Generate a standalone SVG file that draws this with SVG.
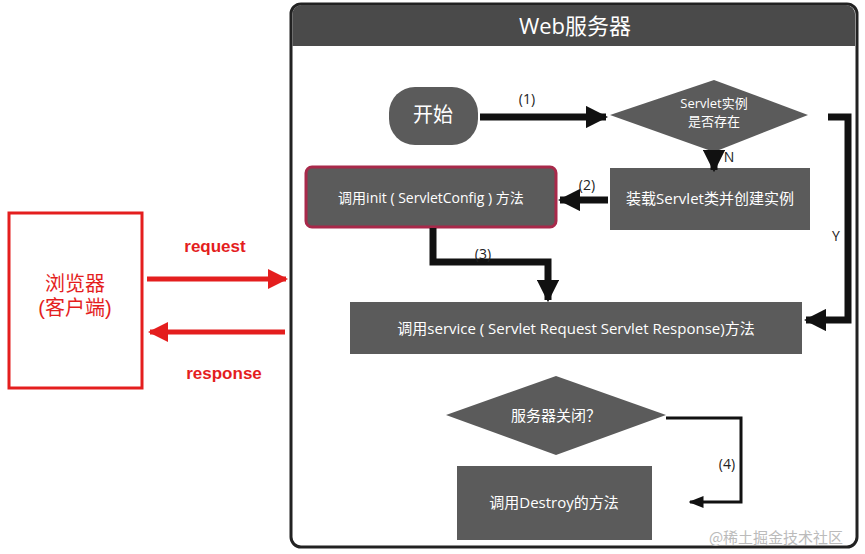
<svg xmlns="http://www.w3.org/2000/svg" width="865" height="554" viewBox="0 0 865 554">
<defs>
<style>
.n{fill:#5b5b5b}
.t{fill:#fff;font-family:"Open Sans","Noto Sans CJK SC",sans-serif;font-size:15px;text-anchor:middle}
.l{fill:#222;font-family:"Open Sans",sans-serif;font-size:14px;text-anchor:middle}
.k{fill:none;stroke:#111;stroke-width:7}
.k2{fill:none;stroke:#111;stroke-width:3}
.r{fill:#e41e1e;font-family:"Liberation Sans","Noto Sans CJK SC",sans-serif;font-weight:bold;text-anchor:middle}
</style>
<marker id="ah" viewBox="0 0 10 10" refX="9" refY="5" markerWidth="3.2" markerHeight="3.2" orient="auto-start-reverse"><path d="M0,0L10,5L0,10z" fill="#111"/></marker>
<marker id="ah2" viewBox="0 0 10 10" refX="9" refY="5" markerWidth="5" markerHeight="5" orient="auto"><path d="M0,1L10,5L0,9z" fill="#111"/></marker>
<marker id="rh" viewBox="0 0 10 10" refX="9" refY="5" markerWidth="4" markerHeight="4" orient="auto"><path d="M0,0L10,5L0,10z" fill="#e41e1e"/></marker>
</defs>
<rect width="865" height="554" fill="#fff"/>
<g id="server">
<rect x="291" y="4" width="566" height="543" rx="10" fill="#fff" stroke="#222" stroke-width="3"/>
<path d="M292.5,46V14a9,9 0 0 1 9-9H846a9,9 0 0 1 9,9V46z" fill="#4a4a4a"/>
<text x="575" y="34" class="t" style="font-size:22px">Web服务器</text>
</g>
<g id="start"><rect x="389" y="87" width="89" height="58" rx="26" class="n"/><text x="433" y="122" class="t" style="font-size:20px">开始</text></g>
<g id="exists"><polygon points="610,115 714,80 808,115 714,152" class="n"/><text x="714" y="108" class="t" style="font-size:13px">Servlet实例</text><text x="714" y="126" class="t" style="font-size:13px">是否存在</text></g>
<g id="load"><rect x="610" y="168" width="200" height="62" class="n"/><text x="710" y="204" class="t">装载Servlet类并创建实例</text></g>
<g id="init"><rect x="306" y="167" width="250" height="60" rx="6" class="n" stroke="#a8294a" stroke-width="3"/><text x="431" y="203" class="t" style="font-size:14px">调用init ( ServletConfig ) 方法</text></g>
<g id="service"><rect x="350" y="302" width="452" height="52" class="n"/><text x="576" y="334" class="t">调用service ( Servlet Request Servlet Response)方法</text></g>
<g id="closed"><polygon points="446,415 556,376 666,415 556,455" class="n"/><text x="556" y="421" class="t">服务器关闭？</text></g>
<g id="destroy"><rect x="457" y="466" width="195" height="74" class="n"/><text x="554" y="508" class="t">调用Destroy的方法</text></g>
<g id="browser"><rect x="9" y="213" width="133" height="175" fill="#fff" stroke="#e41e1e" stroke-width="3"/><text x="75" y="291" class="r" style="font-size:20px;font-weight:normal">浏览器</text><text x="75" y="315" class="r" style="font-size:20px;font-weight:normal">(客户端)</text></g>
<g id="connectors">
<path d="M480,117H606" class="k" marker-end="url(#ah)"/>
<path d="M714,152V170" class="k" marker-end="url(#ah)"/>
<path d="M608,200H560" class="k" marker-end="url(#ah)"/>
<path d="M433,228V262H548V300" class="k" marker-end="url(#ah)"/>
<path d="M828,117H848V320H806" class="k" marker-end="url(#ah)"/>
<path d="M666,418H741V502H690" class="k2" marker-end="url(#ah2)"/>
<path d="M147,279H286" stroke="#e41e1e" stroke-width="5" marker-end="url(#rh)"/>
<path d="M285,332H150" stroke="#e41e1e" stroke-width="5" marker-end="url(#rh)"/>
<text x="527" y="104" class="l">(1)</text>
<text x="729" y="162" class="l">N</text>
<text x="587" y="190" class="l">(2)</text>
<text x="483" y="259" class="l">(3)</text>
<text x="836" y="241" class="l">Y</text>
<text x="727" y="469" class="l">(4)</text>
<text x="215" y="252" class="r" style="font-size:17px">request</text>
<text x="224" y="379" class="r" style="font-size:17px">response</text>
</g>
<text x="776" y="543" style="fill:#bbb;font-family:'Noto Sans CJK SC',sans-serif;font-size:15px;text-anchor:middle">@稀土掘金技术社区</text>
</svg>
